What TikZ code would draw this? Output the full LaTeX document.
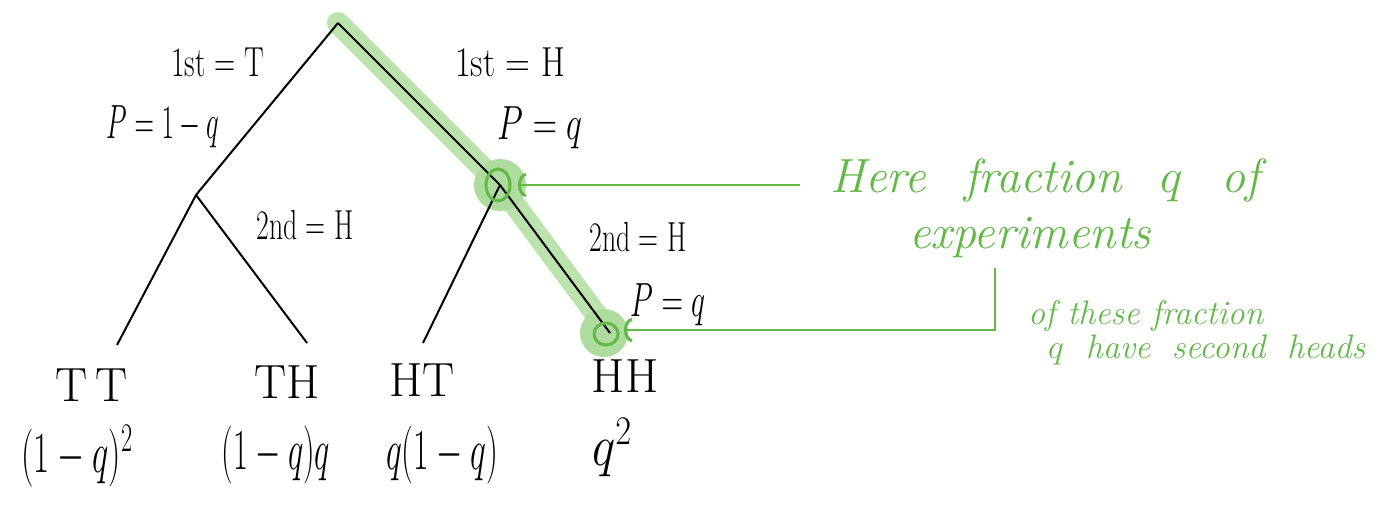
\RequirePackage{fix-cm}
\documentclass[tikz,border=0pt]{standalone}
\usepackage{graphicx}
\usetikzlibrary{arrows.meta}
\definecolor{gdark}{RGB}{98,185,72}
\definecolor{glight}{RGB}{188,226,174}
\newcommand{\hw}[2][0.78]{\scalebox{#1}[1]{#2}}
\tikzset{
  edge/.style={draw=black, line width=2pt},
  hl/.style={draw=glight, line width=22pt, line cap=round, line join=round},
  halo/.style={fill=glight!85!gdark},
  ring/.style={draw=gdark, line width=3pt},
  garrow/.style={draw=gdark, line width=2pt, -{Arc Barb[length=8pt, width=24pt, line width=3pt]}},
  lbl/.style={font=\fontsize{42}{46}\selectfont, inner sep=0pt},
  big/.style={font=\fontsize{48}{54}\selectfont, inner sep=0pt},
  huge/.style={font=\fontsize{58}{64}\selectfont, inner sep=0pt},
  gbig/.style={text=gdark, font=\fontsize{48}{54}\selectfont\itshape, inner sep=0pt},
  gsmall/.style={text=gdark, font=\fontsize{34}{38}\selectfont\itshape, inner sep=0pt}
}
\begin{document}
\begin{tikzpicture}[x=1pt,y=-1pt]
\useasboundingbox (0,0) rectangle (1381,508);
% tree points
\node[coordinate] (r) at (338,23) {};
\node[coordinate] (t) at (196,195) {};
\node[coordinate] (h) at (500,185) {};
\node[coordinate] (tt) at (117,345) {};
\node[coordinate] (th) at (307,343) {};
\node[coordinate] (ht) at (423,343) {};
\node[coordinate] (hh) at (610,333) {};
% highlight
\draw[hl] (r) -- (h) -- (hh);
\fill[halo] (h) circle (26);
\fill[halo] (604,333) circle (24);
% edges
\draw[edge] (r) -- (t);
\draw[edge] (r) -- (h);
\draw[edge] (t) -- (tt);
\draw[edge] (t) -- (th);
\draw[edge] (h) -- (ht);
\draw[edge] (h) -- (hh);
% rings
\draw[ring] (498,185) ellipse (12 and 16);
\draw[ring] (606,334) ellipse (12 and 11);
% edge labels
\node[lbl] (l1t) at (218,62) {\hw[0.7]{1st = T}};
\node[big] (p1t) at (163,127) {\hw[0.56]{$P = 1 - q$}};
\node[lbl] (l1h) at (510,62) {\hw[0.82]{1st = H}};
\node[big] (p1h) at (540,128) {\hw[0.7]{$P = q$}};
\node[lbl] (l2h) at (305,225) {\hw[0.66]{2nd = H}};
\node[lbl] (l2hh) at (638,237) {\hw[0.66]{2nd = H}};
\node[big] (p2h) at (668,305) {\hw[0.62]{$P = q$}};
% leaves
\node[big] (ltt) at (92,385) {T\,T};
\node[big] (lth) at (287,382) {TH};
\node[big] (lht) at (422,380) {HT};
\node[big] (lhh) at (625,376) {HH};
\node[huge] (ptt) at (77,456) {\hw[0.6]{$(1-q)^2$}};
\node[huge] (pth) at (276,455) {\hw[0.56]{$(1-q)q$}};
\node[huge] (pht) at (442,455) {\hw[0.58]{$q(1-q)$}};
\node[huge] (phh) at (612,448) {\hw[0.85]{$q^2$}};
% green annotations
\node[gbig, anchor=west] (n1) at (830,180) {\makebox[430pt][s]{Here fraction $q$ of}};
\node[gbig] (n2) at (1030,238) {experiments};
\node[gsmall, anchor=west] (n3) at (1028,316) {of these fraction};
\node[gsmall, anchor=west] (n4) at (1048,350) {\makebox[317pt][s]{$q$ have second heads}};
% green arrows
\node[coordinate] (a1s) at (800,185) {};
\node[coordinate] (a1e) at (518,185) {};
\draw[garrow] (a1s) -- (a1e);
\node[coordinate] (a2s) at (995,268) {};
\node[coordinate] (a2c) at (995,330) {};
\node[coordinate] (a2e) at (624,330) {};
\draw[garrow] (a2s) -- (a2c) -- (a2e);
\end{tikzpicture}
\end{document}
